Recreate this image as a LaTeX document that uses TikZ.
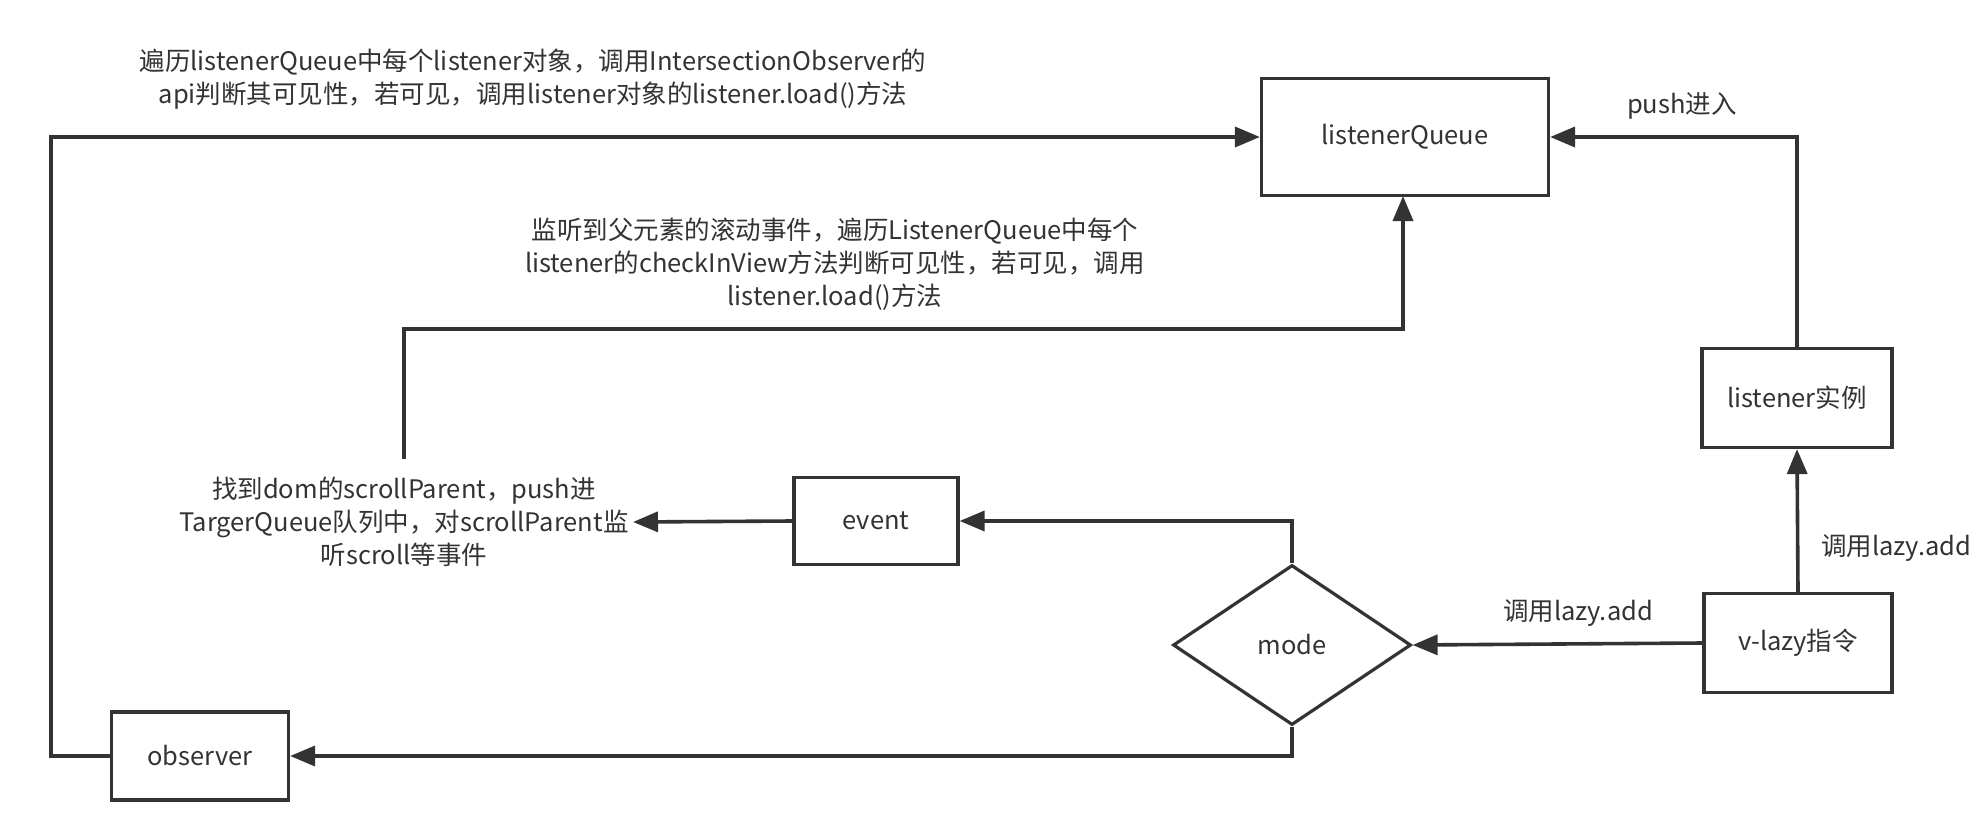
\documentclass[tikz,border=0pt]{standalone}
\usepackage{fontspec}
\setmainfont{Noto Sans CJK SC}
\usetikzlibrary{shapes.geometric,arrows.meta}
\definecolor{ink}{HTML}{333333}
\tikzset{
  box/.style={draw=ink, line width=3.2pt, fill=white, inner sep=0pt, font=\fontsize{25.5}{30}\selectfont, text=ink},
  lbl/.style={align=center, font=\fontsize{25.5}{33}\selectfont, text=ink, inner sep=0pt},
  conn/.style={draw=ink, line width=3.6pt, -{Triangle[length=25pt,width=20pt]}},
}
\begin{document}
\begin{tikzpicture}[x=1pt,y=-1pt]
\useasboundingbox (0,0) rectangle (1986,814);
\fill[white] (0,0) rectangle (1986,814);
% nodes
\node[box, minimum width=287pt, minimum height=117pt] (lq) at (1405,137) {listenerQueue};
\node[box, minimum width=190pt, minimum height=99pt] (li) at (1797,398) {listener实例};
\node[box, minimum width=188pt, minimum height=99pt] (vl) at (1798,643) {v-lazy指令};
\node[box, shape=diamond, minimum width=238pt, minimum height=160pt] (mode) at (1292,645) {mode};
\node[box, minimum width=164pt, minimum height=87pt] (ev) at (876,521) {event};
\node[box, minimum width=177pt, minimum height=88pt] (ob) at (200,756) {observer};
% texts
\node[lbl] (t1) at (533,79) {遍历listenerQueue中每个listener对象，调用IntersectionObserver的\\api判断其可见性，若可见，调用listener对象的listener.load()方法};
\node[lbl] (t2) at (835,264) {监听到父元素的滚动事件，遍历ListenerQueue中每个\\listener的checkInView方法判断可见性，若可见，调用\\listener.load()方法};
\node[lbl] (t3) at (404,522) {找到dom的scrollParent，push进\\TargerQueue队列中，对scrollParent监\\听scroll等事件};
\node[lbl] (tpush) at (1682,106) {push进入};
\node[lbl, anchor=west] (tadd1) at (1821,548) {调用lazy.add};
\node[lbl] (tadd2) at (1578,613) {调用lazy.add};
\coordinate (t3top) at (404,459);
\coordinate (t3right) at (633,522);
% connectors
\draw[conn] (ob.west) -| (51,137) -- (lq.west);
\draw[conn] (t3top) |- (1403,329) -- (1403,196);
\draw[conn] (li.north) |- (lq.east);
\draw[conn] (vl.north) -- (li.south);
\draw[conn] (vl.west) -- (mode.east);
\draw[conn] (mode.north) |- (ev.east);
\draw[conn] (ev.west) -- (t3right);
\draw[conn] (mode.south) |- (ob.east);
\end{tikzpicture}
\end{document}
